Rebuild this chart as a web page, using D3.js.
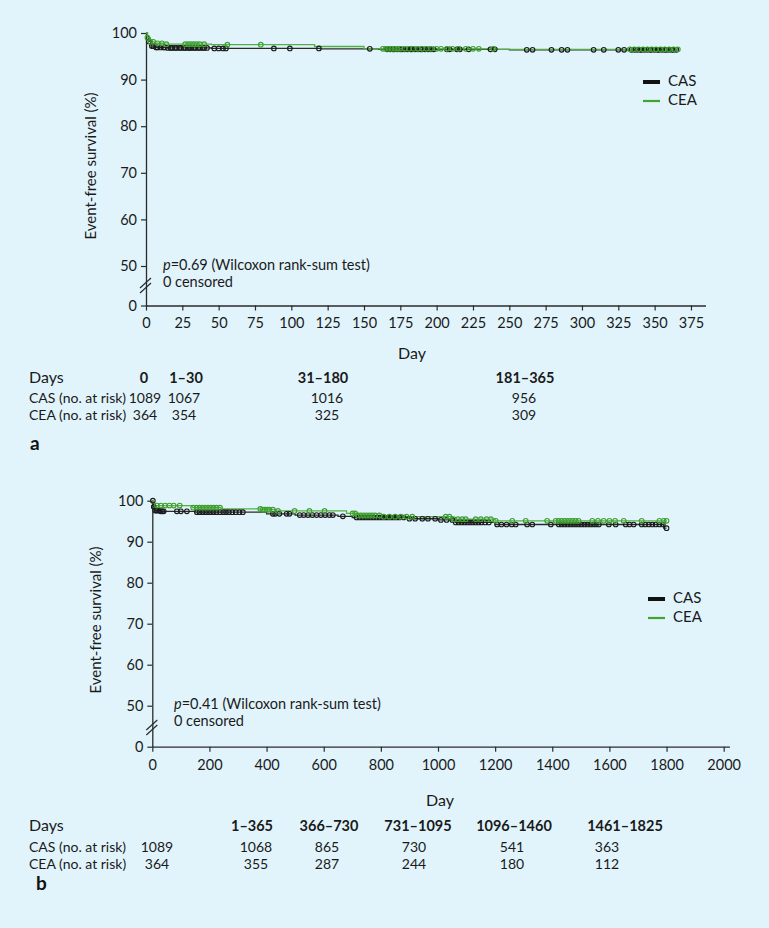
<!DOCTYPE html>
<html><head><meta charset="utf-8">
<script src="https://cdn.jsdelivr.net/npm/d3@7"></script>
<style>
html,body{margin:0;padding:0;background:#e1f4fc;}
svg{display:block;font-family:Lato,"Open Sans",sans-serif;}
</style></head>
<body>
<svg id="chart" width="769" height="928"></svg>
<script>
// ---------------- DATA ----------------
const seriesNames = ["CAS", "CEA"];
const yTicks = [0, 50, 60, 70, 80, 90, 100];
const xTicksA = [0,25,50,75,100,125,150,175,200,225,250,275,300,325,350,375];
const xTicksB = [0,200,400,600,800,1000,1200,1400,1600,1800,2000];

// Panel a step curves [day, survival %]
const casStepsA = [[0,100],[1,99.2],[2,98.2],[4,97.2],[7,96.9],[15,96.8],[45,96.7],[120,96.6],[160,96.5],[250,96.4],[366,96.4]];
const ceaStepsA = [[0,100],[1,99.0],[3,98.1],[6,97.8],[12,97.6],[45,97.5],[116,97.1],[150,96.6],[240,96.5],[366,96.5]];
const casCensorA = [2,4,5,7,8,10,12,13,15,17,18,20,21,23,24,26,27,29,30,31,33,34,36,37,39,40,42,47,50,53,55,88,99,119,154,
  166,168,170,171,173,175,176,178,180,182,183,185,187,189,190,192,194,196,198,207,209,214,216,222,237,240,262,266,279,286,290,308,315,325,329,
  334,336,338,340,341,343,345,347,348,350,352,353,355,357,358,360,362,363,365];
const ceaCensorA = [1,3,5,8,11,14,27,29,31,33,35,37,40,56,79,163,165,167,169,171,173,175,178,181,184,187,190,193,196,200,203,207,211,215,220,225,229,239,
  333,336,339,342,345,348,351,354,357,360,363,366];

// Panel b step curves [day, survival %]
const casStepsB = [[0,100],[3,98.5],[8,97.6],[30,97.4],[150,97.2],[400,96.8],[500,96.5],[650,96.2],[700,95.9],[900,95.6],[1000,95.3],[1060,94.7],[1200,94.2],[1790,93.3],[1800,93.3]];
const ceaStepsB = [[0,100],[3,99.2],[10,98.8],[140,98.3],[240,98.0],[380,97.8],[430,97.5],[680,96.9],[720,96.4],[800,96.1],[1050,95.5],[1200,95.1],[1800,95.1]];
const casCensorB = [2,5,10,15,20,25,30,35,40,86,100,121,156,165,175,185,195,205,215,225,237,248,258,268,280,292,305,317,422,430,445,470,480,516,530,545,560,575,590,605,620,632,667,
  715,725,735,745,755,765,775,785,795,805,815,825,835,845,855,865,880,900,920,945,965,990,1010,1030,1050,1062,1072,1082,1092,1102,1112,1122,1132,1142,1152,1165,1178,
  1207,1222,1240,1258,1272,1312,1330,1395,1423,1433,1443,1453,1463,1473,1483,1493,1503,1513,1523,1533,1543,1553,1563,1598,1622,1657,1670,1685,1713,1725,1738,1750,1762,1775,1787,1800];
const ceaCensorB = [16,30,45,60,75,96,143,155,165,175,185,195,205,215,225,237,378,386,394,402,410,422,440,498,550,603,701,710,720,730,740,750,760,770,780,795,810,830,850,870,890,910,
  1027,1040,1055,1070,1085,1097,1132,1150,1170,1185,1202,1260,1307,1382,1412,1422,1432,1442,1452,1462,1472,1482,1492,1540,1560,1580,1600,1620,1650,1713,1775,1790,1800];

// Number-at-risk tables
const tableHeadA = ["0","1–30","31–180","181–365"];
const casRiskA = ["1089","1067","1016","956"];
const ceaRiskA = ["364","354","325","309"];
const pTextA = "0.69";

const tableHeadB = ["1–365","366–730","731–1095","1096–1460","1461–1825"];
const casRiskB = ["1068","865","730","541","363"];
const ceaRiskB = ["355","287","244","180","112"];
const riskStartB = ["1089","364"];
const pTextB = "0.41";

// ---------------- DRAWING ----------------
const svg = d3.select("#chart");
const colors = {CAS:"#1b1b1b", CEA:"#3f9f2f"};
const lineColors = {CAS:"#2a2a2a", CEA:"#55b043"};
const axisColor = "#2b2b2b";
const txt = "#1a1a1a";

function survAt(steps, t){
  let v = steps[0][1];
  for (const s of steps){ if (s[0] <= t) v = s[1]; else break; }
  return v;
}

function drawPanel(cfg){
  const g = svg.append("g");
  const x = d3.scaleLinear().domain(cfg.xDomain).range([cfg.xLeft, cfg.xRight]);
  const y = d3.scaleLinear().domain([0,50,100]).range([cfg.y0, cfg.y50, cfg.y100]);

  // axes
  const xAxis = d3.axisBottom(x).tickValues(cfg.xTicks).tickFormat(d3.format("d"))
    .tickSize(5).tickSizeOuter(0).tickPadding(cfg.xPad);
  const gx = g.append("g").attr("transform", `translate(0,${cfg.y0})`).call(xAxis);
  const yAxis = d3.axisLeft(y).tickValues(yTicks).tickFormat(d3.format("d"))
    .tickSize(5).tickSizeOuter(0).tickPadding(4);
  const gy = g.append("g").attr("transform", `translate(${cfg.xLeft},0)`).call(yAxis);
  [gx, gy].forEach(a => {
    a.select(".domain").attr("stroke", axisColor).attr("stroke-width", 1.3);
    a.selectAll(".tick line").attr("stroke", axisColor).attr("stroke-width", 1.2);
    a.selectAll(".tick text").attr("fill", txt).style("font-size", "14.5px").style("font-family", 'Lato,sans-serif');
  });

  // axis break
  const yb = cfg.yBreak;
  [0, 5].forEach(off => {
    g.append("line").attr("x1", cfg.xLeft-6).attr("y1", yb+5-off)
      .attr("x2", cfg.xLeft+5).attr("y2", yb-5-off)
      .attr("stroke", axisColor).attr("stroke-width", 1.2);
  });

  // labels
  g.append("text").attr("transform", `translate(${cfg.yLabelX},${cfg.yLabelY}) rotate(-90)`)
    .attr("text-anchor","middle").attr("dominant-baseline","middle")
    .style("font-size","15px").attr("fill",txt).text("Event-free survival (%)");
  g.append("text").attr("x", cfg.dayX).attr("y", cfg.dayY)
    .attr("text-anchor","middle").attr("dominant-baseline","middle")
    .style("font-size","16px").attr("fill",txt).text("Day");

  // p text
  const pt = g.append("text").attr("x", cfg.pX).attr("y", cfg.pY).attr("dominant-baseline","middle")
    .style("font-size","14.5px").attr("fill",txt);
  pt.append("tspan").style("font-style","italic").text("p");
  pt.append("tspan").text("=" + cfg.pVal + " (Wilcoxon rank-sum test)");
  g.append("text").attr("x", cfg.pX).attr("y", cfg.pY + 17).attr("dominant-baseline","middle")
    .style("font-size","14.5px").attr("fill",txt).text("0 censored");

  // curves
  const line = d3.line().x(d => x(d[0])).y(d => y(d[1])).curve(d3.curveStepAfter);
  const data = {CAS: {steps: cfg.casSteps, cens: cfg.casCens}, CEA: {steps: cfg.ceaSteps, cens: cfg.ceaCens}};
  ["CAS","CEA"].forEach(name => {
    g.append("path").datum(data[name].steps).attr("d", line)
      .attr("fill","none").attr("stroke", lineColors[name]).attr("stroke-width", 1.3);
  });
  ["CAS","CEA"].forEach(name => {
    g.append("g").selectAll("circle").data(data[name].cens).join("circle")
      .attr("cx", d => x(d)).attr("cy", d => y(survAt(data[name].steps, d)))
      .attr("r", 2.3).attr("fill","none").attr("stroke", colors[name]).attr("stroke-width", 1.1);
  });

  // legend
  seriesNames.forEach((name, i) => {
    const ly = cfg.legY + i*cfg.legGap;
    g.append("line").attr("x1", cfg.legX).attr("x2", cfg.legX+17).attr("y1", ly).attr("y2", ly)
      .attr("stroke", name==="CAS" ? "#111" : "#3fa52f").attr("stroke-width", name==="CAS" ? 4 : 2.2);
    g.append("text").attr("x", cfg.legX+25).attr("y", ly).attr("dominant-baseline","middle")
      .style("font-size","15px").attr("fill",txt).text(name);
  });

  // table
  const t = cfg.table;
  g.append("text").attr("x", t.labelX).attr("y", t.headY).attr("dominant-baseline","middle")
    .style("font-size","16px").attr("fill",txt).text("Days");
  g.append("text").attr("x", t.labelX).attr("y", t.row1Y).attr("dominant-baseline","middle")
    .style("font-size","14px").attr("fill",txt).text("CAS (no. at risk)");
  g.append("text").attr("x", t.labelX).attr("y", t.row2Y).attr("dominant-baseline","middle")
    .style("font-size","14px").attr("fill",txt).text("CEA (no. at risk)");
  t.heads.forEach((h, i) => {
    g.append("text").attr("x", t.headXs[i]).attr("y", t.headY).attr("text-anchor","middle").attr("dominant-baseline","middle")
      .style("font-size","14.5px").style("font-weight","bold").attr("fill",txt).text(h);
  });
  t.r1.forEach((v, i) => {
    g.append("text").attr("x", t.valXs[i]).attr("y", t.row1Y).attr("text-anchor","middle").attr("dominant-baseline","middle")
      .style("font-size","14px").attr("fill",txt).text(v);
  });
  t.r2.forEach((v, i) => {
    g.append("text").attr("x", t.valXs[i]).attr("y", t.row2Y).attr("text-anchor","middle").attr("dominant-baseline","middle")
      .style("font-size","14px").attr("fill",txt).text(v);
  });
  g.append("text").attr("x", cfg.tagX).attr("y", cfg.tagY).attr("dominant-baseline","middle")
    .style("font-size","19px").style("font-weight","bold").attr("fill","#111").text(cfg.tag);
}

drawPanel({
  xDomain:[0,385], xLeft:146, xRight:705.5, xTicks:xTicksA, xPad:7,
  y0:305.5, y50:266, y100:33, yBreak:288,
  yLabelX:92, yLabelY:166, dayX:412, dayY:355,
  pX:163, pY:266, pVal:pTextA,
  casSteps:casStepsA, ceaSteps:ceaStepsA, casCens:casCensorA, ceaCens:ceaCensorA,
  legX:643, legY:82, legGap:19,
  table:{labelX:29, headY:379, row1Y:399, row2Y:416.5,
    heads:tableHeadA, headXs:[144,186,323,525],
    r1:casRiskA, r2:ceaRiskA, valXs:[145,184,327,524]},
  tag:"a", tagX:30, tagY:445
});

drawPanel({
  xDomain:[0,2020], xLeft:152.3, xRight:729.4, xTicks:xTicksB, xPad:8,
  y0:746.7, y50:705.7, y100:500.7, yBreak:730,
  yLabelX:97, yLabelY:620, dayX:440, dayY:802,
  pX:174, pY:705, pVal:pTextB,
  casSteps:casStepsB, ceaSteps:ceaStepsB, casCens:casCensorB, ceaCens:ceaCensorB,
  legX:648, legY:599, legGap:19,
  table:{labelX:29, headY:827, row1Y:848, row2Y:865.5,
    heads:tableHeadB, headXs:[252,329,418,514,625],
    r1:[riskStartB[0]].concat(casRiskB), r2:[riskStartB[1]].concat(ceaRiskB), valXs:[157,256,327,414,512,607]},
  tag:"b", tagX:36, tagY:885
});
</script>
</body></html>
